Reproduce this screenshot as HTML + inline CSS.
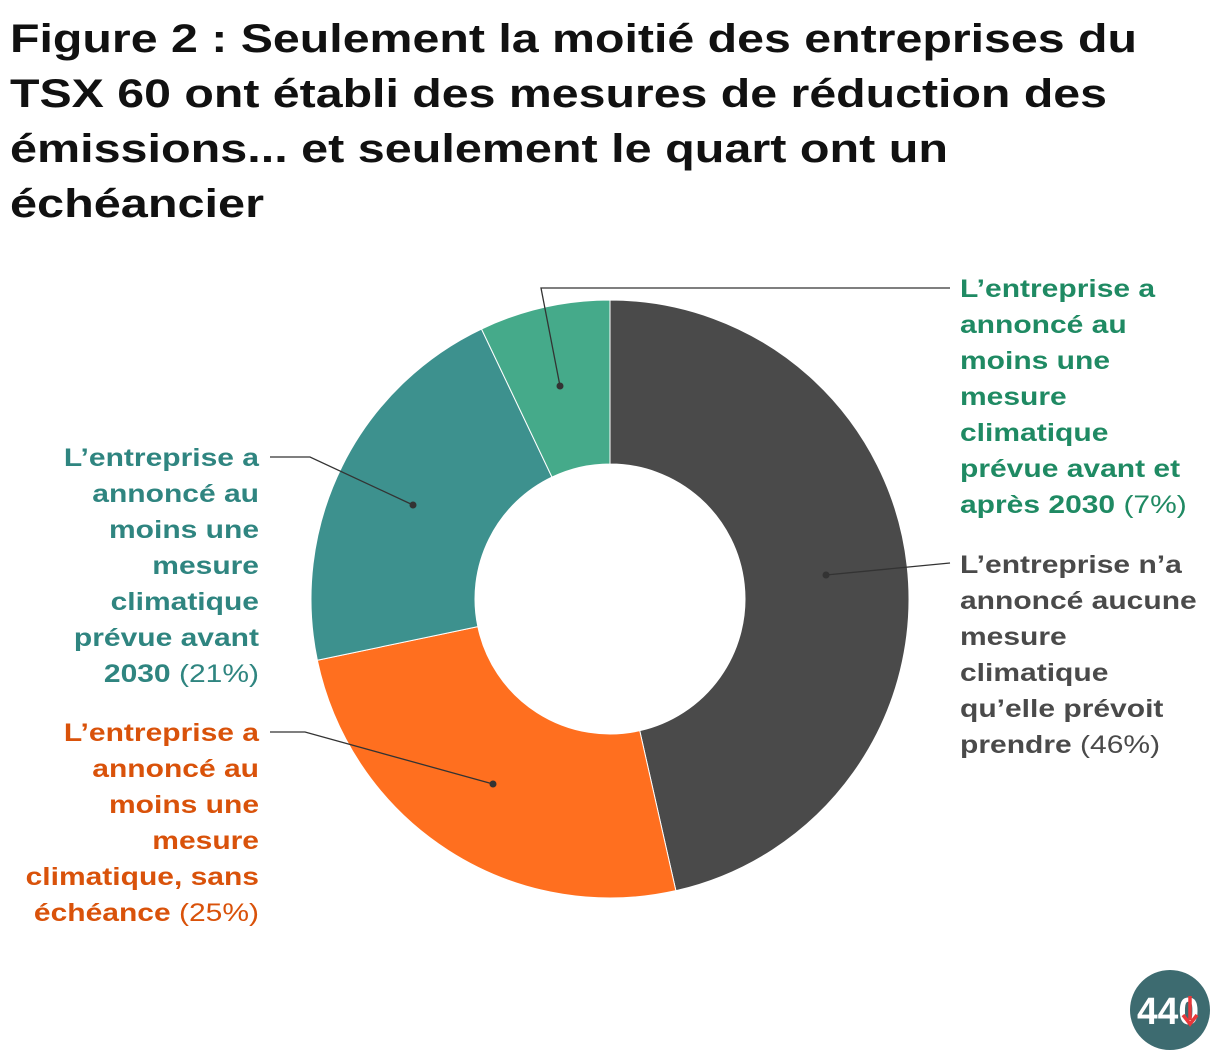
<!DOCTYPE html>
<html><head><meta charset="utf-8"><style>
body{margin:0;background:#fff;width:1220px;height:1060px;overflow:hidden;font-family:"Liberation Sans",sans-serif}
svg{position:absolute;left:0;top:0}
</style></head><body>
<svg width="1220" height="1060">
<g font-weight="bold" font-size="40" fill="#111">
<text x="10" y="52" textLength="1127" lengthAdjust="spacingAndGlyphs">Figure 2 : Seulement la moitié des entreprises du</text>
<text x="10" y="107" textLength="1097" lengthAdjust="spacingAndGlyphs">TSX 60 ont établi des mesures de réduction des</text>
<text x="10" y="162" textLength="938" lengthAdjust="spacingAndGlyphs">émissions... et seulement le quart ont un</text>
<text x="10" y="217" textLength="254" lengthAdjust="spacingAndGlyphs">échéancier</text>
</g>
<g id="slices"></g>
<g id="labels" font-size="25"></g>
<g>
<circle cx="1170" cy="1010" r="40" fill="#3d6b70"/>
<text x="1137" y="1024" font-size="38" font-weight="bold" fill="#fff" textLength="62" lengthAdjust="spacingAndGlyphs">440</text>
<path d="M1190 996 v24 M1183 1015 l7 9 l7 -9" stroke="#e8383a" stroke-width="3.5" fill="none"/>
</g>
</svg>
<script>
const categories=["Aucune mesure","Sans échéance","Avant 2030","Avant et après 2030"];
const values=[46,25,21,7];
const colors=["#4a4a4a","#ff6f1f","#3d918e","#45aa8a"];
const cx=610,cy=599,R=299,r=135;
const NS="http://www.w3.org/2000/svg";
const total=values.reduce((a,b)=>a+b,0);
const g=document.getElementById('slices');
let a0=0;
function pt(rad,a){return [cx+rad*Math.sin(a),cy-rad*Math.cos(a)];}
values.forEach((v,i)=>{
 const a1=a0+v/total*2*Math.PI;
 const large=(a1-a0)>Math.PI?1:0;
 const p1=pt(R,a0),p2=pt(R,a1),p3=pt(r,a1),p4=pt(r,a0);
 const p=document.createElementNS(NS,'path');
 p.setAttribute('d',`M${p1} A${R} ${R} 0 ${large} 1 ${p2} L${p3} A${r} ${r} 0 ${large} 0 ${p4}Z`);
 p.setAttribute('fill',colors[i]);p.setAttribute('stroke','#fff');p.setAttribute('stroke-width','1');
 
 
 g.appendChild(p);
 a0=a1;
});
const L=document.getElementById('labels');
function lab(lines,pct,x,y,anchor,col,line,dot){
 const gg=document.createElementNS(NS,'g');
 
 
 L.appendChild(gg);
 lines.forEach((t,k)=>{
  const tx=document.createElementNS(NS,'text');
  tx.setAttribute('x',x);tx.setAttribute('y',y+k*36);tx.setAttribute('text-anchor',anchor);
  tx.setAttribute('fill',col);tx.setAttribute('font-weight','bold');
  tx.textContent=t;
  if(k==lines.length-1){const s=document.createElementNS(NS,'tspan');s.setAttribute('font-weight','normal');s.textContent=' '+pct;tx.appendChild(s);}
  gg.appendChild(tx);
  const w=tx.getComputedTextLength();
  tx.setAttribute('textLength',(w*1.2).toFixed(1));
  tx.setAttribute('lengthAdjust','spacingAndGlyphs');
 });
 const pl=document.createElementNS(NS,'polyline');
 pl.setAttribute('points',line);pl.setAttribute('fill','none');pl.setAttribute('stroke','#333');pl.setAttribute('stroke-width','1.3');
 gg.appendChild(pl);
 const c=document.createElementNS(NS,'circle');c.setAttribute('cx',dot[0]);c.setAttribute('cy',dot[1]);c.setAttribute('r','3.5');c.setAttribute('fill','#333');
 gg.appendChild(c);
}
lab(["L’entreprise a","annoncé au","moins une","mesure","climatique","prévue avant et","après 2030"],"(7%)",960,297,"start","#1f8a63","560,386 541,288 950,288",[560,386]);
lab(["L’entreprise n’a","annoncé aucune","mesure","climatique","qu’elle prévoit","prendre"],"(46%)",960,573,"start","#4a4a4a","826,575 950,563",[826,575]);
lab(["L’entreprise a","annoncé au","moins une","mesure","climatique","prévue avant","2030"],"(21%)",259,466,"end","#2f8580","413,505 310,457 270,457",[413,505]);
lab(["L’entreprise a","annoncé au","moins une","mesure","climatique, sans","échéance"],"(25%)",259,741,"end","#d9520a","493,784 305,732 270,732",[493,784]);
</script>
</body></html>
